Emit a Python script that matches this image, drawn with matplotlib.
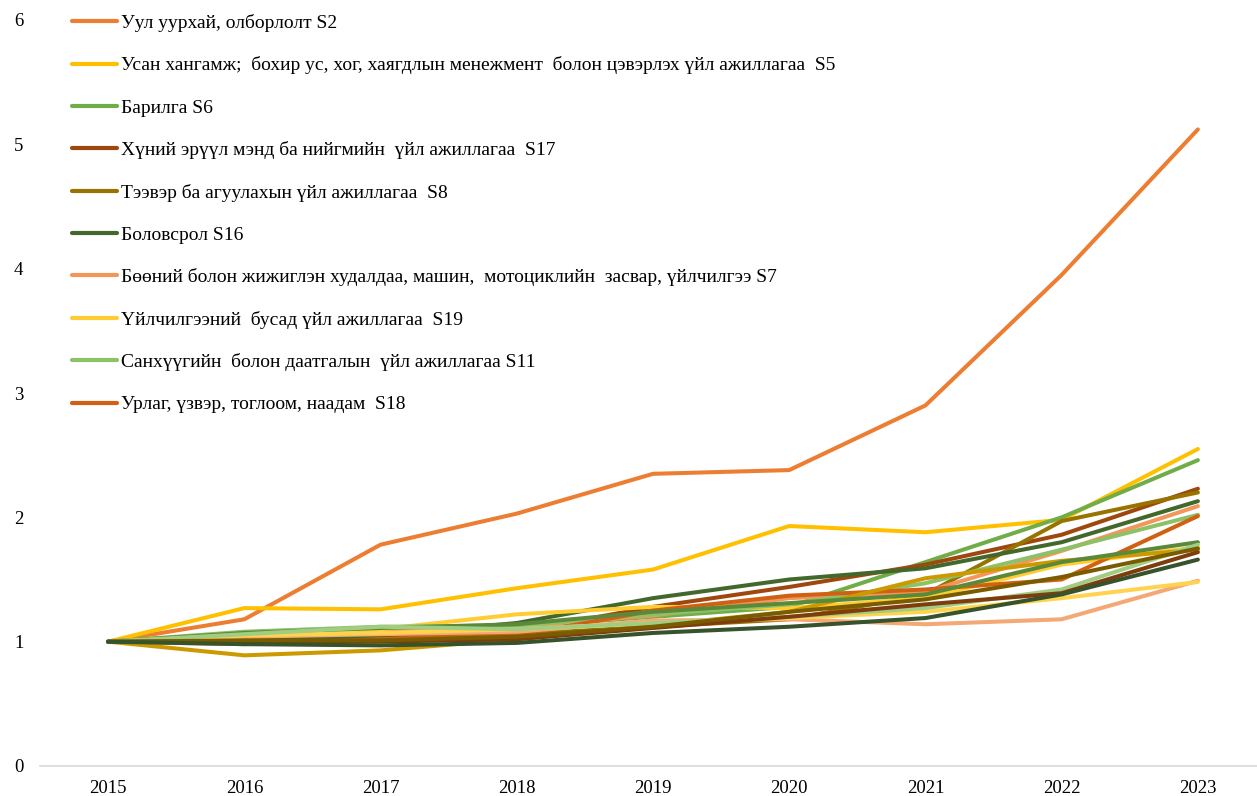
import matplotlib
matplotlib.use("Agg")
import matplotlib.pyplot as plt

years = ["2015", "2016", "2017", "2018", "2019", "2020", "2021", "2022", "2023"]

labels = [
    "Уул уурхай, олборлолт S2",
    "Усан хангамж;  бохир ус, хог, хаягдлын менежмент  болон цэвэрлэх үйл ажиллагаа  S5",
    "Барилга S6",
    "Хүний эрүүл мэнд ба нийгмийн  үйл ажиллагаа  S17",
    "Тээвэр ба агуулахын үйл ажиллагаа  S8",
    "Боловсрол S16",
    "Бөөний болон жижиглэн худалдаа, машин,  мотоциклийн  засвар, үйлчилгээ S7",
    "Үйлчилгээний  бусад үйл ажиллагаа  S19",
    "Санхүүгийн  болон даатгалын  үйл ажиллагаа S11",
    "Урлаг, үзвэр, тоглоом, наадам  S18",
    None, None, None, None, None, None, None, None,
]

s2  = [1.00, 1.18, 1.78, 2.03, 2.35, 2.38, 2.90, 3.95, 5.12]
s5  = [1.00, 1.27, 1.26, 1.43, 1.58, 1.93, 1.88, 1.98, 2.55]
s6  = [1.00, 1.07, 1.10, 1.12, 1.20, 1.28, 1.64, 2.00, 2.46]
s17 = [1.00, 1.01, 1.03, 1.08, 1.28, 1.44, 1.62, 1.86, 2.23]
s8  = [1.00, 1.02, 1.02, 1.06, 1.12, 1.18, 1.38, 1.97, 2.20]
s16 = [1.00, 1.00, 1.05, 1.15, 1.35, 1.50, 1.59, 1.80, 2.13]
s7  = [1.00, 1.06, 1.08, 1.12, 1.21, 1.35, 1.40, 1.73, 2.09]
s19 = [1.00, 1.07, 1.10, 1.22, 1.28, 1.27, 1.35, 1.62, 1.76]
s11 = [1.00, 1.08, 1.12, 1.13, 1.22, 1.30, 1.47, 1.74, 2.02]
s18 = [1.00, 0.98, 1.02, 1.05, 1.25, 1.37, 1.42, 1.50, 2.01]
x11 = [1.00, 0.89, 0.93, 1.02, 1.13, 1.24, 1.51, 1.65, 1.74]
x12 = [1.00, 1.07, 1.11, 1.14, 1.24, 1.31, 1.38, 1.64, 1.80]
x13 = [1.00, 1.04, 1.06, 1.08, 1.17, 1.18, 1.14, 1.18, 1.49]
x14 = [1.00, 1.05, 1.07, 1.10, 1.15, 1.19, 1.24, 1.35, 1.48]
x15 = [1.00, 1.06, 1.12, 1.10, 1.15, 1.20, 1.27, 1.42, 1.78]
x16 = [1.00, 1.00, 1.00, 1.02, 1.11, 1.20, 1.30, 1.39, 1.72]
x17 = [1.00, 1.01, 1.01, 1.04, 1.12, 1.24, 1.34, 1.52, 1.75]
x18 = [1.00, 0.98, 0.97, 0.99, 1.07, 1.12, 1.19, 1.38, 1.66]

series = [s2, s5, s6, s17, s8, s16, s7, s19, s11, s18,
          x11, x12, x13, x14, x15, x16, x17, x18]
colors = ["#ED7D31", "#FFC000", "#70AD47", "#9E480E", "#997300", "#43682B",
          "#F1975A", "#FFCD33", "#8CC168", "#D26012", "#CC9A00", "#5A8A39",
          "#F3A875", "#FFD34D", "#A1CD83", "#7F3C0C", "#7A5C00", "#36532B"]

plt.rcParams['font.family'] = ['Liberation Serif', 'DejaVu Serif']

W, H = 1257, 796
fig = plt.figure(figsize=(W / 100, H / 100), dpi=100)
ax = fig.add_axes([40 / W, 30 / H, 1226 / W, 746 / H])

xs = list(range(len(years)))
handles = []
for vals, col, lab in zip(series, colors, labels):
    ln, = ax.plot(xs, vals, color=col, lw=2.9, solid_capstyle='round',
                  solid_joinstyle='round')
    if lab is not None:
        ln.set_label(lab)
        handles.append(ln)

ax.set_xlim(-0.5, 8.5)
ax.set_ylim(0, 6)
ax.set_yticks(range(0, 7))
ax.set_xticks(xs)
ax.set_xticklabels(years)
ax.tick_params(axis='both', length=0, labelsize=13.5)
ax.tick_params(axis='y', pad=12)
ax.tick_params(axis='x', pad=10)
for sp in ['top', 'right', 'left']:
    ax.spines[sp].set_visible(False)
ax.spines['bottom'].set_color('#D9D9D9')
ax.spines['bottom'].set_linewidth(1.2)

leg = fig.legend(handles=handles, loc='upper left',
                 bbox_to_anchor=(72 / W, 1 - 14 / H), frameon=False,
                 fontsize=14, handlelength=2.3, handletextpad=0.2,
                 labelspacing=1.26, borderaxespad=0, borderpad=0)
for l in leg.get_lines():
    l.set_linewidth(3)

fig.savefig("out.png", dpi=100)
